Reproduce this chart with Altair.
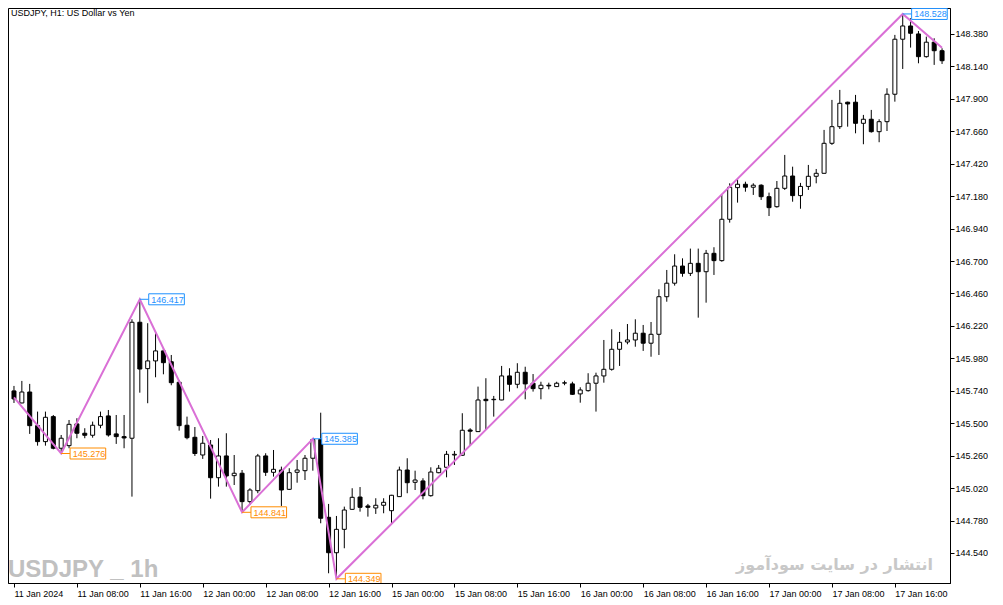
import altair as alt
import pandas as pd

# ---------------- data ----------------
time_labels = ["11 Jan 2024", "11 Jan 08:00", "11 Jan 16:00", "12 Jan 00:00", "12 Jan 08:00",
               "12 Jan 16:00", "15 Jan 00:00", "15 Jan 08:00", "15 Jan 16:00", "16 Jan 00:00",
               "16 Jan 08:00", "16 Jan 16:00", "17 Jan 00:00", "17 Jan 08:00", "17 Jan 16:00"]

opens = [145.739, 145.650, 145.731, 145.482, 145.364, 145.549, 145.315, 145.334, 145.495, 145.426,
         145.411, 145.485, 145.554, 145.421, 145.401, 145.389, 146.247, 145.904, 145.961, 146.035,
         145.955, 145.803, 145.485, 145.396, 145.265, 145.339, 145.097, 145.258, 145.112, 145.130,
         144.920, 145.001, 145.258, 145.137, 145.154, 145.011, 145.137, 145.149, 145.241, 145.380,
         144.804, 144.542, 144.715, 144.863, 144.954, 144.888, 144.873, 144.893, 144.853, 144.957,
         145.154, 145.063, 145.073, 144.964, 145.134, 145.174, 145.265, 145.263, 145.450, 145.438,
         145.677, 145.674, 145.672, 145.850, 145.788, 145.877, 145.796, 145.756, 145.781, 145.771,
         145.797, 145.791, 145.717, 145.741, 145.796, 145.850, 145.899, 146.047, 146.101, 146.116,
         146.166, 146.092, 146.158, 146.436, 146.536, 146.663, 146.609, 146.683, 146.621, 146.757,
         146.703, 147.009, 147.243, 147.268, 147.246, 147.261, 147.176, 147.102, 147.238, 147.329,
         147.184, 147.252, 147.327, 147.349, 147.571, 147.694, 147.875, 147.875, 147.719, 147.749,
         147.657, 147.731, 147.934, 148.341, 148.439, 148.380, 148.212, 148.319, 148.256]
highs = [145.776, 145.813, 145.791, 145.586, 145.586, 145.561, 145.413, 145.524, 145.537, 145.463,
         145.512, 145.586, 145.598, 145.561, 145.561, 146.269, 146.417, 146.240, 146.166, 146.055,
         146.005, 145.820, 145.549, 145.472, 145.406, 145.376, 145.389, 145.426, 145.265, 145.154,
         145.019, 145.273, 145.278, 145.302, 145.179, 145.167, 145.228, 145.265, 145.385, 145.578,
         144.903, 144.814, 144.883, 145.019, 145.028, 144.903, 144.945, 144.945, 144.970, 145.179,
         145.241, 145.149, 145.093, 145.174, 145.191, 145.295, 145.295, 145.574, 145.463, 145.771,
         145.833, 145.702, 145.924, 145.907, 145.944, 145.918, 145.864, 145.807, 145.800, 145.807,
         145.815, 145.807, 145.766, 145.870, 145.874, 146.116, 146.195, 146.175, 146.234, 146.269,
         146.227, 146.249, 146.491, 146.634, 146.750, 146.720, 146.792, 146.792, 146.782, 146.802,
         147.189, 147.275, 147.305, 147.287, 147.275, 147.268, 147.206, 147.292, 147.485, 147.398,
         147.278, 147.411, 147.381, 147.670, 147.892, 147.966, 147.879, 147.929, 147.781, 147.818,
         147.749, 147.978, 148.373, 148.528, 148.496, 148.402, 148.360, 148.348, 148.274]
lows = [145.650, 145.648, 145.421, 145.334, 145.334, 145.307, 145.276, 145.315, 145.389, 145.389,
        145.393, 145.463, 145.401, 145.347, 145.315, 144.957, 145.726, 145.648, 145.840, 145.862,
        145.781, 145.445, 145.381, 145.258, 145.236, 144.942, 145.031, 145.031, 145.043, 144.841,
        144.895, 144.982, 145.110, 145.105, 144.888, 145.006, 145.060, 145.080, 145.149, 144.760,
        144.390, 144.349, 144.575, 144.860, 144.846, 144.809, 144.829, 144.834, 144.760, 144.955,
        144.982, 145.006, 144.937, 144.957, 145.130, 145.100, 145.191, 145.260, 145.339, 145.436,
        145.450, 145.549, 145.670, 145.734, 145.759, 145.677, 145.734, 145.677, 145.751, 145.770,
        145.781, 145.709, 145.652, 145.734, 145.586, 145.800, 145.889, 145.924, 146.084, 146.066,
        146.035, 145.992, 146.005, 146.399, 146.518, 146.584, 146.589, 146.281, 146.392, 146.597,
        146.695, 146.984, 147.132, 147.213, 147.189, 147.152, 147.033, 147.095, 147.226, 147.139,
        147.087, 147.226, 147.275, 147.347, 147.559, 147.677, 147.694, 147.645, 147.564, 147.650,
        147.579, 147.662, 147.879, 148.121, 148.279, 148.163, 148.205, 148.151, 148.158]
closes = [145.680, 145.731, 145.482, 145.364, 145.544, 145.315, 145.389, 145.492, 145.426, 145.411,
          145.485, 145.549, 145.413, 145.401, 145.391, 146.247, 145.901, 145.961, 146.035, 145.948,
          145.800, 145.482, 145.393, 145.276, 145.352, 145.097, 145.258, 145.110, 145.130, 144.920,
          145.006, 145.258, 145.137, 145.159, 145.006, 145.134, 145.154, 145.241, 145.380, 144.797,
          144.542, 144.715, 144.858, 144.952, 144.878, 144.878, 144.893, 144.915, 144.967, 145.154,
          145.060, 145.080, 144.964, 145.139, 145.167, 145.270, 145.270, 145.448, 145.441, 145.672,
          145.667, 145.677, 145.850, 145.788, 145.877, 145.791, 145.756, 145.781, 145.776, 145.796,
          145.799, 145.714, 145.746, 145.796, 145.850, 145.899, 146.047, 146.099, 146.116, 146.166,
          146.092, 146.158, 146.436, 146.536, 146.663, 146.609, 146.683, 146.621, 146.757, 146.703,
          147.009, 147.246, 147.268, 147.246, 147.261, 147.176, 147.095, 147.238, 147.329, 147.184,
          147.252, 147.327, 147.349, 147.571, 147.694, 147.867, 147.862, 147.719, 147.749, 147.657,
          147.731, 147.934, 148.341, 148.439, 148.385, 148.212, 148.319, 148.256, 148.182]

zigzag_index = [0, 6, 16, 29, 38, 41, 113, 118]
zigzag_price = [145.692, 145.276, 146.417, 144.841, 145.385, 144.349, 148.528, 148.278]

label_index = [6, 16, 29, 38, 41, 113]
label_price = [145.276, 146.417, 144.841, 145.385, 144.349, 148.528]
label_kind = ["low", "high", "low", "high", "low", "high"]

y_ticks = [144.54, 144.78, 145.02, 145.26, 145.50, 145.74, 145.98, 146.22, 146.46,
           146.70, 146.94, 147.18, 147.42, 147.66, 147.90, 148.14, 148.38]

title_text = "USDJPY, H1:  US Dollar vs Yen"
watermark_text = "USDJPY _ 1h"
persian_text = "انتشار در سایت سودآموز"

# ---------------- layout ----------------
W, H = 942, 575
X_DOMAIN = [-0.125, 118.375]
Y_DOMAIN = [144.318, 148.572]
px_x = W / (X_DOMAIN[1] - X_DOMAIN[0])
px_y = H / (Y_DOMAIN[1] - Y_DOMAIN[0])
FONT = "Liberation Sans"
ZZ_COLOR = "#DA70D6"
HIGH_COLOR = "#1E90FF"
LOW_COLOR = "#FF8C00"

n = len(opens)
df = pd.DataFrame({"i": list(range(n)), "o": opens, "h": highs, "l": lows, "c": closes})
df["kind"] = ["bull" if c >= o else "bear" for o, c in zip(opens, closes)]

zz = pd.DataFrame({"i": zigzag_index, "p": zigzag_price})

lab = pd.DataFrame({"i": label_index, "p": label_price, "kind": label_kind})
lab["txt"] = [f"{v:.3f}" for v in label_price]
lab["col"] = [HIGH_COLOR if k == "high" else LOW_COLOR for k in label_kind]
lab["bx1"] = lab["i"] + 9 / px_x
lab["bx2"] = lab["i"] + 45 / px_x
lab["by1"] = lab["p"] - 5.5 / px_y
lab["by2"] = lab["p"] + 5.5 / px_y

xs = alt.Scale(domain=X_DOMAIN, nice=False, zero=False)
ys = alt.Scale(domain=Y_DOMAIN, nice=False, zero=False)

label_expr = "[" + ",".join(f"'{t}'" for t in time_labels) + "][round(datum.value/8)]"
x_axis = alt.Axis(values=list(range(0, 8 * len(time_labels), 8)), labelExpr=label_expr,
                  labelAlign="left", labelBaseline="top", labelPadding=2, tickSize=4,
                  grid=False, title=None, labelFlush=False, labelOverlap=False,
                  labelFont=FONT, labelFontSize=9, labelColor="black",
                  tickColor="black", domainColor="black")
y_axis = alt.Axis(orient="right", values=y_ticks, format=".3f", tickSize=4, labelPadding=1,
                  grid=False, title=None, labelFlush=False, labelOverlap=False,
                  labelFont=FONT, labelFontSize=9, labelColor="black",
                  tickColor="black", domainColor="black")

X = alt.X("i:Q", scale=xs, axis=x_axis)

wicks = alt.Chart(df).mark_rule(color="black", strokeWidth=1, clip=True).encode(
    x=X, y=alt.Y("l:Q", scale=ys, axis=y_axis), y2="h:Q")

bodies = alt.Chart(df).mark_bar(size=4, stroke="black", strokeWidth=1, clip=True).encode(
    x=X, y=alt.Y("o:Q", scale=ys, axis=y_axis), y2="c:Q",
    fill=alt.Fill("kind:N", scale=alt.Scale(domain=["bull", "bear"], range=["white", "black"]),
                  legend=None))

zigzag = alt.Chart(zz).mark_line(color=ZZ_COLOR, strokeWidth=2, clip=True).encode(
    x=X, y=alt.Y("p:Q", scale=ys, axis=y_axis))

connectors = alt.Chart(lab).mark_rule(strokeWidth=1, clip=True).encode(
    x=X, x2="bx1:Q", y=alt.Y("p:Q", scale=ys, axis=y_axis),
    color=alt.Color("col:N", scale=None))

boxes = alt.Chart(lab).mark_rect(fill="white", strokeWidth=1, clip=True).encode(
    x=alt.X("bx1:Q", scale=xs, axis=x_axis), x2="bx2:Q",
    y=alt.Y("by1:Q", scale=ys, axis=y_axis), y2="by2:Q",
    stroke=alt.Stroke("col:N", scale=None))

texts = alt.Chart(lab).mark_text(align="left", baseline="middle", dx=11.5, dy=0.5,
                                 font=FONT, fontSize=9, clip=True).encode(
    x=X, y=alt.Y("p:Q", scale=ys, axis=y_axis), text="txt:N",
    color=alt.Color("col:N", scale=None))

title = alt.Chart(pd.DataFrame({"t": [title_text]})).mark_text(
    align="left", baseline="top", font=FONT, fontSize=9, color="black").encode(
    x=alt.value(3), y=alt.value(1), text="t:N")

watermark = alt.Chart(pd.DataFrame({"t": [watermark_text]})).mark_text(
    align="left", baseline="alphabetic", font=FONT, fontSize=24, fontWeight="bold",
    color="#c0c0c0").encode(x=alt.value(0), y=alt.value(569), text="t:N")

persian = alt.Chart(pd.DataFrame({"t": [persian_text]})).mark_text(
    align="right", baseline="alphabetic", font="DejaVu Sans", fontSize=16, fontWeight="bold",
    color="#c8c8c8").encode(x=alt.value(925), y=alt.value(562), text="t:N")

chart = alt.layer(watermark, persian, title, wicks, bodies, zigzag, connectors, boxes, texts).properties(
    width=W, height=H, padding=0, background="white"
).configure_view(stroke="black", strokeWidth=1)

chart.save("out.html", embed_options={"renderer": "svg", "actions": False})
